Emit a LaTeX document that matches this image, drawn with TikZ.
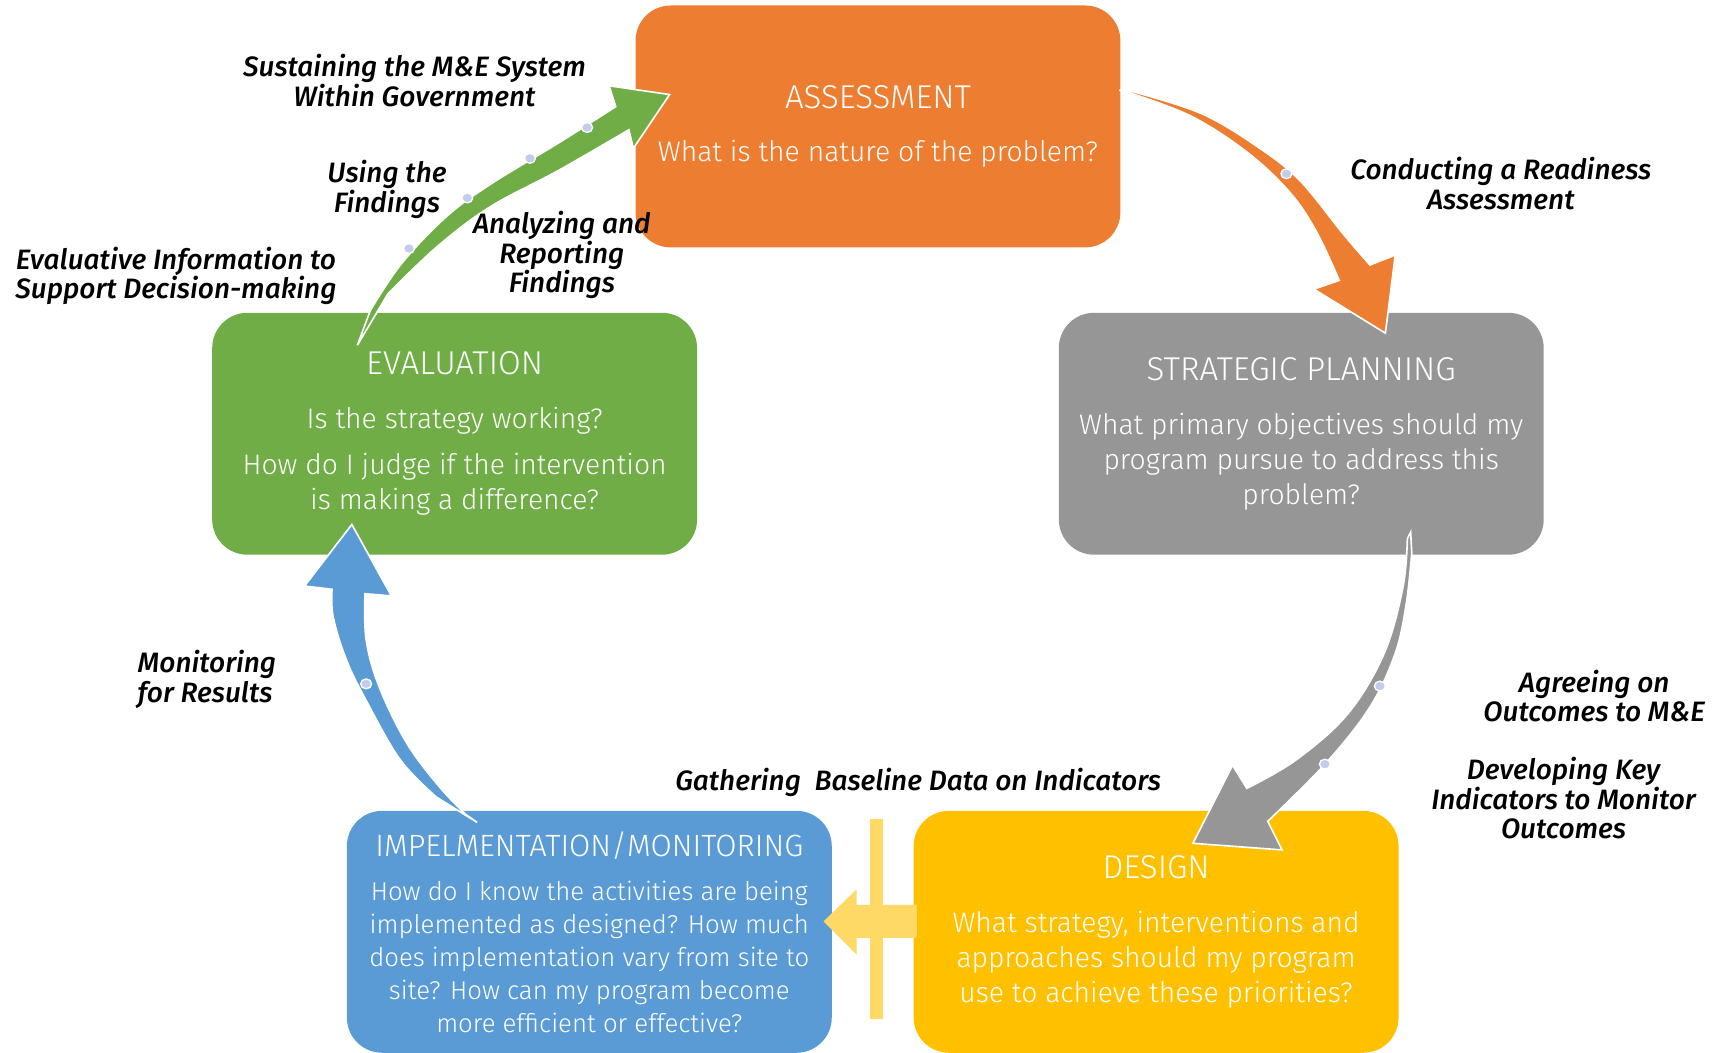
\documentclass[tikz,border=0pt]{standalone}
\usepackage{fontspec}
\setmainfont{Fira Sans}
\IfFontExistsTF{Fira Sans Light}{\newfontfamily\boxfont{Fira Sans Light}}{\newfontfamily\boxfont{Lato}}
\IfFontExistsTF{Fira Sans Medium Italic}{\newfontfamily\labfontA{Fira Sans Medium Italic}\newcommand\labstyle{\labfontA}}{\newfontfamily\labfontA{Fira Sans}\newcommand\labstyle{\labfontA\itshape}}
\definecolor{cOrange}{HTML}{ED7D31}
\definecolor{cGrey}{HTML}{969696}
\definecolor{cYellow}{HTML}{FFC000}
\definecolor{cBlue}{HTML}{5B9BD5}
\definecolor{cGreen}{HTML}{70AD47}
\definecolor{cLtYellow}{HTML}{FFD966}
\definecolor{cDot}{HTML}{C3CCEA}
\newcommand\boxtitle[1]{{\fontsize{30}{32}\selectfont #1}}
\begin{document}
\begin{tikzpicture}[x=1pt,y=-1pt,
  box/.style={rounded corners=32pt, minimum width=441pt, minimum height=220pt, text=white, align=center, inner sep=0pt, font=\boxfont\fontsize{25.7}{32}\selectfont},
  lab/.style={font=\labstyle\fontsize{25.5}{27}\selectfont, align=center, inner sep=0pt},
  blk/.style={draw=white, line width=1.5pt, line join=miter},
  hdot/.style={fill=cDot, draw=white, line width=1.2pt}
]
\useasboundingbox (0,0) rectangle (1568,957);

% boxes
\node[box, fill=cOrange] (assess) at (798.5,115) {\boxtitle{ASSESSMENT}\\[17pt]What is the nature of the problem?};
\node[box, fill=cGrey] (plan) at (1183.5,394.5) {\boxtitle{STRATEGIC PLANNING}\\[17pt]What primary objectives should my\\program pursue to address this\\problem?};
\node[box, fill=cYellow] (design) at (1051.5,847.5) {\boxtitle{DESIGN}\\[17pt]What strategy, interventions and\\approaches should my program\\use to achieve these priorities?};
\node[box, fill=cBlue, font=\boxfont\fontsize{23.4}{30}\selectfont] (impl) at (536,847.5) {{\fontsize{28}{32}\selectfont IMPELMENTATION/MONITORING}\\[10pt]How do I know the activities are being\\implemented as designed? How much\\does implementation vary from site to\\site? How can my program become\\more efficient or effective?};
\node[box, fill=cGreen] (evalu) at (413.5,394.5) {\boxtitle{EVALUATION}\\[17pt]Is the strategy working?\\[10pt]How do I judge if the intervention\\is making a difference?};

% orange arrow: assessment -> planning
\path[blk, fill=cOrange] (1018,82) -- plot[smooth, tension=0.6] coordinates {(1029,83) (1092,103) (1143,133) (1182,164) (1221,212) (1246,241)}
  -- (1269,232) -- (1260,303) -- (1195,263)
  -- plot[smooth, tension=0.6] coordinates {(1218,255) (1198,212) (1174,176) (1135,139) (1084,106) (1029,85)} -- cycle;
\path[hdot] (1170,158) ellipse (5pt and 4.5pt);

% grey arrow: planning -> design
\path[blk, fill=cGrey] (1283,484) -- plot[smooth, tension=0.6] coordinates {(1284,503) (1279,549) (1269,594) (1246,643) (1206,694) (1153,747)}
  -- (1166,773) -- (1085,767) -- (1121,696)
  -- plot[smooth, tension=0.6] coordinates {(1134,717) (1179,691) (1226,649) (1259,594) (1276,534) (1280,490)} -- cycle;
\path[hdot] (1255,624) ellipse (5pt and 4.5pt);
\path[hdot] (1205,695) ellipse (5pt and 4.5pt);

% yellow arrow: design -> implementation
\path[fill=cLtYellow] (834,823) -- (779,823) -- (779,809) -- (749,838) -- (779,868) -- (779,853) -- (834,853) -- cycle;
\path[fill=cLtYellow] (791,745) rectangle (803,927);

% blue arrow: implementation -> evaluation
\path[blk, fill=cBlue] (434,748) -- plot[smooth, tension=0.6] coordinates {(397,725) (364,691) (333,637) (315,600) (303,561) (302,536)}
  -- (277,533) -- (320,477) -- (356,542)
  -- plot[smooth, tension=0.6] coordinates {(332,540) (333,582) (345,625) (370,676) (400,716) (424,741)} -- cycle;
\path[hdot] (333,622) ellipse (5pt and 4.5pt);

% green arrow: evaluation -> assessment
\path[blk, fill=cGreen] (325,314) -- plot[smooth, tension=0.6] coordinates {(337,282) (365,240) (406,197) (447,167) (508,130) (560,97)}
  -- (554,78) -- (609,86) -- (576,135)
  -- plot[smooth, tension=0.6] coordinates {(572,118) (508,155) (446,188) (398,224) (353,267)} -- cycle;
\path[hdot] (372,226) ellipse (5pt and 4.5pt);
\path[hdot] (425,180) ellipse (5pt and 4.5pt);
\path[hdot] (482,144) ellipse (5pt and 4.5pt);
\path[hdot] (534,116) ellipse (5pt and 4.5pt);

% labels
\node[lab] (l1) at (377,73) {Sustaining the M\&E System\\Within Government};
\node[lab] (l2) at (352,172) {Using the\\Findings};
\node[lab] (l3) at (511,232) {Analyzing and\\Reporting\\Findings};
\node[lab] (l4) at (160,251) {Evaluative Information to\\Support Decision-making};
\node[lab] (l5) at (1365,167) {Conducting a Readiness\\Assessment};
\node[lab] (l6) at (1450,633) {Agreeing on\\Outcomes to M\&E};
\node[lab] (l7) at (1422,726) {Developing Key\\Indicators to Monitor\\Outcomes};
\node[lab, align=left, anchor=west] (l8) at (125,618) {Monitoring\\for Results};
\node[lab] (l9) at (835,712) {Gathering\ \ Baseline Data on Indicators};
\end{tikzpicture}
\end{document}
